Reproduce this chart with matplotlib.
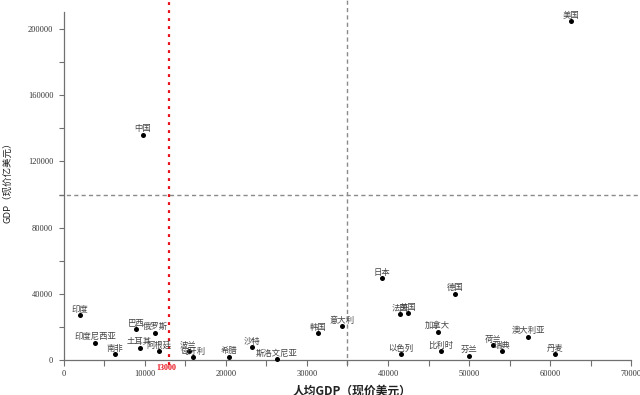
import matplotlib
matplotlib.use("Agg")
import matplotlib.pyplot as plt

# data (2018)
countries = ["美国", "中国", "印度", "印度尼西亚", "南非", "巴西", "俄罗斯", "土耳其",
             "阿根廷", "波兰", "匈牙利", "希腊", "沙特", "斯洛文尼亚", "韩国", "意大利",
             "日本", "法国", "英国", "以色列", "德国", "加拿大", "比利时", "芬兰",
             "荷兰", "瑞典", "澳大利亚", "丹麦"]
gdp_per_capita = [62600, 9750, 1980, 3900, 6340, 8930, 11270, 9340,
                  11690, 15390, 15970, 20330, 23210, 26300, 31400, 34360,
                  39300, 41480, 42510, 41600, 48230, 46130, 46580, 50000,
                  53000, 54110, 57330, 60660]
gdp_total = [204800, 136000, 27200, 10500, 3600, 18500, 16500, 7440,
             5250, 5620, 1600, 2000, 7660, 430, 16100, 20540,
             49500, 27600, 28200, 3440, 40000, 17100, 5250, 2600,
             9060, 5440, 14100, 3440]

x_cut = 13000      # red reference line
x_mid = 35000      # grey dashed vertical
y_mid = 100000     # grey dashed horizontal

W, H = 640, 395
fig = plt.figure(figsize=(W / 100, H / 100), dpi=100)
ax = fig.add_axes([59 / W, 30 / H, 581 / W, 365 / H])
ax.set_xlim(-600, 71100)
ax.set_ylim(-3000, 217500)

serif = "Liberation Serif"
cjk = "Noto Sans CJK SC"

# reference lines
ax.axhline(y_mid, color="#8a8a8a", lw=1.0, ls=(0, (3, 2.3)), zorder=1)
ax.axvline(x_mid, color="#8a8a8a", lw=1.0, ls=(0, (3, 2.3)), zorder=1)
ax.axvline(x_cut, color="#e8141c", lw=1.6, ls=(0, (1.3, 2.3)), zorder=2)

# points and labels
ax.scatter(gdp_per_capita, gdp_total, s=13, color="black", zorder=3, linewidths=0)
for name, xv, yv in zip(countries, gdp_per_capita, gdp_total):
    ax.annotate(name, (xv, yv), xytext=(0, 4.3), textcoords="offset points",
                ha="center", va="center", fontsize=6, color="#444444",
                family=cjk, zorder=4)

ax.annotate(str(x_cut), (x_cut, 0), xytext=(-2, -5.8), textcoords="offset points",
            ha="center", va="center", fontsize=5.8, color="#e8141c",
            fontweight="bold", family=serif)

# axes styling
for s in ["top", "right"]:
    ax.spines[s].set_visible(False)
ax.spines["left"].set_position(("data", 0))
ax.spines["bottom"].set_position(("data", 0))
ax.spines["left"].set_bounds(0, 210000)
ax.spines["bottom"].set_bounds(0, 70000)
for s in ["left", "bottom"]:
    ax.spines[s].set_color("#707070")
    ax.spines[s].set_linewidth(0.9)

ax.set_xticks([t for t in range(0, 70001, 10000)])
ax.set_xticks([t for t in range(5000, 70000, 10000)], minor=True)
ax.set_yticks([t for t in range(0, 200001, 40000)])
ax.set_yticks([t for t in range(20000, 210001, 40000)], minor=True)
ax.tick_params(axis="x", which="both", direction="out", length=4.3, width=0.8,
               color="#707070", pad=3.2)
ax.tick_params(axis="y", which="both", direction="out", length=3.6, width=0.8,
               color="#707070", pad=4.0)
for lab in ax.get_xticklabels() + ax.get_yticklabels():
    lab.set_fontfamily(serif)
    lab.set_fontsize(6)
    lab.set_color("#333333")

fig.text(352 / W, 4 / H, "人均GDP（现价美元）", ha="center", va="center",
         fontsize=8.5, fontweight="bold", family=[cjk, "DejaVu Sans"], color="#222222")
fig.text(8 / W, (H - 180) / H, "GDP（现价亿美元）", ha="center", va="center",
         rotation=90, fontsize=6.8, family=[cjk, "DejaVu Sans"], color="#222222")

fig.savefig("out.png", dpi=100)
